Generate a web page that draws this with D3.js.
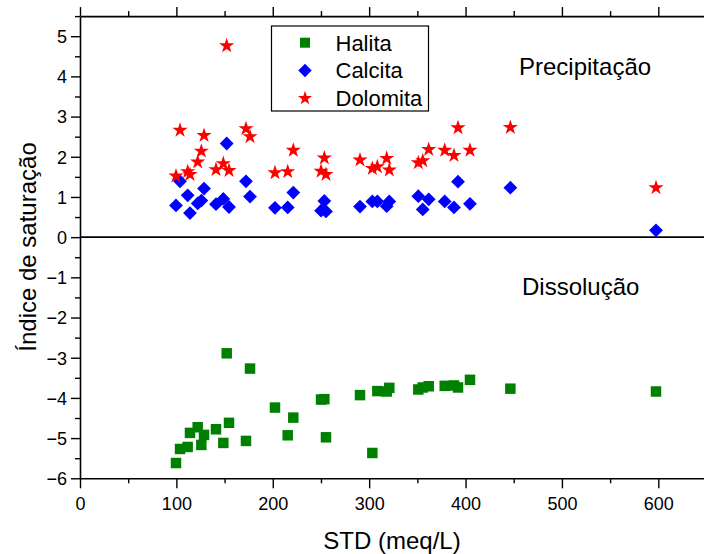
<!DOCTYPE html>
<html>
<head>
<meta charset="utf-8">
<script src="https://cdn.jsdelivr.net/npm/d3@7"></script>
<style>
  html, body { margin: 0; padding: 0; background: #fff; }
  svg { display: block; font-family: Arial, "Liberation Sans", sans-serif; }
</style>
</head>
<body>
<svg id="chart" width="704" height="554"></svg>
<script>
// Total dissolved solids (meq/L) for each sample
const std = [99.6, 103.8, 111.7, 114.1, 122.1, 125.9, 128.7, 141.1, 148.7, 152.2, 154.6,
             172.2, 176.4, 202.3, 215.5, 221.3, 250.1, 253.5, 255.2, 290.5, 303.3, 308.5,
             318.2, 320.9, 351.0, 355.6, 361.8, 378.4, 388.0, 392.2, 404.6, 446.5, 597.6];

// Saturation index per mineral, same sample order
const halita = [-5.62, -5.27, -5.22, -4.87, -4.73, -5.17, -4.92, -4.78, -5.12, -2.89, -4.62,
                -5.07, -3.27, -4.24, -4.93, -4.49, -4.04, -4.03, -4.98, -3.93, -5.37, -3.83,
                -3.84, -3.75, -3.79, -3.74, -3.71, -3.70, -3.69, -3.74, -3.55, -3.77, -3.84];
const calcita = [0.79, 1.39, 1.04, 0.60, 0.84, 0.91, 1.21, 0.82, 0.95, 2.33, 0.75,
                 1.39, 1.01, 0.73, 0.74, 1.11, 0.66, 0.90, 0.64, 0.76, 0.89, 0.89,
                 0.77, 0.89, 1.02, 0.69, 0.94, 0.89, 0.74, 1.38, 0.83, 1.23, 0.17];
const dolomita = [1.52, 2.66, 1.63, 1.56, 1.87, 2.14, 2.53, 1.68, 1.83, 4.76, 1.66,
                  2.70, 2.50, 1.60, 1.63, 2.16, 1.64, 1.97, 1.56, 1.92, 1.71, 1.75,
                  1.96, 1.67, 1.85, 1.90, 2.18, 2.16, 2.03, 2.72, 2.16, 2.73, 1.23];

const seriesNames = ["Halita", "Calcita", "Dolomita"];
const xTicks = [0, 100, 200, 300, 400, 500, 600];
const yTicks = [-6, -5, -4, -3, -2, -1, 0, 1, 2, 3, 4, 5];

const svg = d3.select("#chart");

const x = d3.scaleLinear().domain([0, 650]).range([80, 706.5]);
const y = d3.scaleLinear().domain([-6, 5.5]).range([478.3, 16.1]);

const xMinor = d3.range(0, 651, 50);
const yMinor = d3.range(-6, 5.51, 0.5);

// Bottom axis with labels
const axBottom = svg.append("g").attr("transform", `translate(0,${y(-6)})`)
  .call(d3.axisBottom(x).tickValues(xTicks).tickFormat(d3.format("d")).tickSize(10).tickSizeOuter(0));
axBottom.append("g").call(d3.axisBottom(x).tickValues(xMinor.filter(v => v % 100 !== 0)).tickSize(5).tickFormat(""))
  .select(".domain").remove();

// Top axis, ticks only
const axTop = svg.append("g").attr("transform", `translate(0,${y(5.5)})`)
  .call(d3.axisTop(x).tickValues(xTicks).tickFormat("").tickSize(9).tickSizeOuter(0));
axTop.append("g").call(d3.axisTop(x).tickValues(xMinor.filter(v => v % 100 !== 0)).tickSize(5).tickFormat(""))
  .select(".domain").remove();

// Left axis with labels
const axLeft = svg.append("g").attr("transform", `translate(${x(0)},0)`)
  .call(d3.axisLeft(y).tickValues(yTicks).tickFormat(d3.format("d")).tickSize(9).tickSizeOuter(0));
axLeft.append("g").call(d3.axisLeft(y).tickValues(yMinor.filter(v => v % 1 !== 0)).tickSize(5).tickFormat(""))
  .select(".domain").remove();

svg.selectAll(".domain").attr("stroke", "#000").attr("stroke-width", 1.6);
svg.selectAll(".tick line").attr("stroke", "#000").attr("stroke-width", 1.4);
svg.selectAll(".tick text").attr("fill", "#000").style("font-size", "18px")
  .style("font-family", "Arial, 'Liberation Sans', sans-serif");
axBottom.selectAll(".tick text").attr("dy", "1.05em");
axLeft.selectAll(".tick text").attr("x", -13).attr("dy", "0.35em");

// Zero line separating precipitation and dissolution
svg.append("line")
  .attr("x1", x(0)).attr("x2", x(650))
  .attr("y1", y(0)).attr("y2", y(0))
  .attr("stroke", "#000").attr("stroke-width", 1.6);

// Markers
const squarePath = d3.symbol().type(d3.symbolSquare).size(110)();
const diamondPath = d3.symbol().type(d3.symbolSquare).size(95)();
const starPath = d3.symbol().type(d3.symbolStar).size(72)();

const plot = svg.append("g");

plot.selectAll(".halita").data(std.map((s, i) => [s, halita[i]])).join("path")
  .attr("class", "halita").attr("d", squarePath).attr("fill", "#008000")
  .attr("transform", d => `translate(${x(d[0])},${y(d[1])})`);

plot.selectAll(".calcita").data(std.map((s, i) => [s, calcita[i]])).join("path")
  .attr("class", "calcita").attr("d", diamondPath).attr("fill", "#0000ff")
  .attr("transform", d => `translate(${x(d[0])},${y(d[1])}) rotate(45)`);

plot.selectAll(".dolomita").data(std.map((s, i) => [s, dolomita[i]])).join("path")
  .attr("class", "dolomita").attr("d", starPath).attr("fill", "#ff0000")
  .attr("transform", d => `translate(${x(d[0])},${y(d[1])})`);

// Region labels
svg.append("text").attr("x", 519).attr("y", 75).text("Precipitação")
  .style("font-size", "24px").attr("fill", "#000");
svg.append("text").attr("x", 522).attr("y", 295).text("Dissolução")
  .style("font-size", "24px").attr("fill", "#000");

// Axis titles
svg.append("text").attr("x", 392).attr("y", 549).attr("text-anchor", "middle")
  .text("STD (meq/L)").style("font-size", "24px").attr("fill", "#000");
svg.append("text").attr("transform", "translate(36,247) rotate(-90)").attr("text-anchor", "middle")
  .text("Índice de saturação").style("font-size", "24px").attr("fill", "#000");

// Legend
const legend = svg.append("g");
legend.append("rect").attr("x", 271.5).attr("y", 26).attr("width", 157).attr("height", 85)
  .attr("fill", "#fff").attr("stroke", "#000").attr("stroke-width", 1.2);
const legendSymbols = [
  { path: d3.symbol().type(d3.symbolSquare).size(100)(), fill: "#008000", rot: 0 },
  { path: d3.symbol().type(d3.symbolSquare).size(90)(), fill: "#0000ff", rot: 45 },
  { path: d3.symbol().type(d3.symbolStar).size(62)(), fill: "#ff0000", rot: 0 }
];
seriesNames.forEach((name, i) => {
  const cy = 42.7 + i * 27.8;
  legend.append("path").attr("d", legendSymbols[i].path).attr("fill", legendSymbols[i].fill)
    .attr("transform", `translate(305,${cy}) rotate(${legendSymbols[i].rot})`);
  legend.append("text").attr("x", 335.5).attr("y", cy).attr("dy", "0.36em")
    .text(name).style("font-size", "22px").attr("fill", "#000");
});
</script>
</body>
</html>
